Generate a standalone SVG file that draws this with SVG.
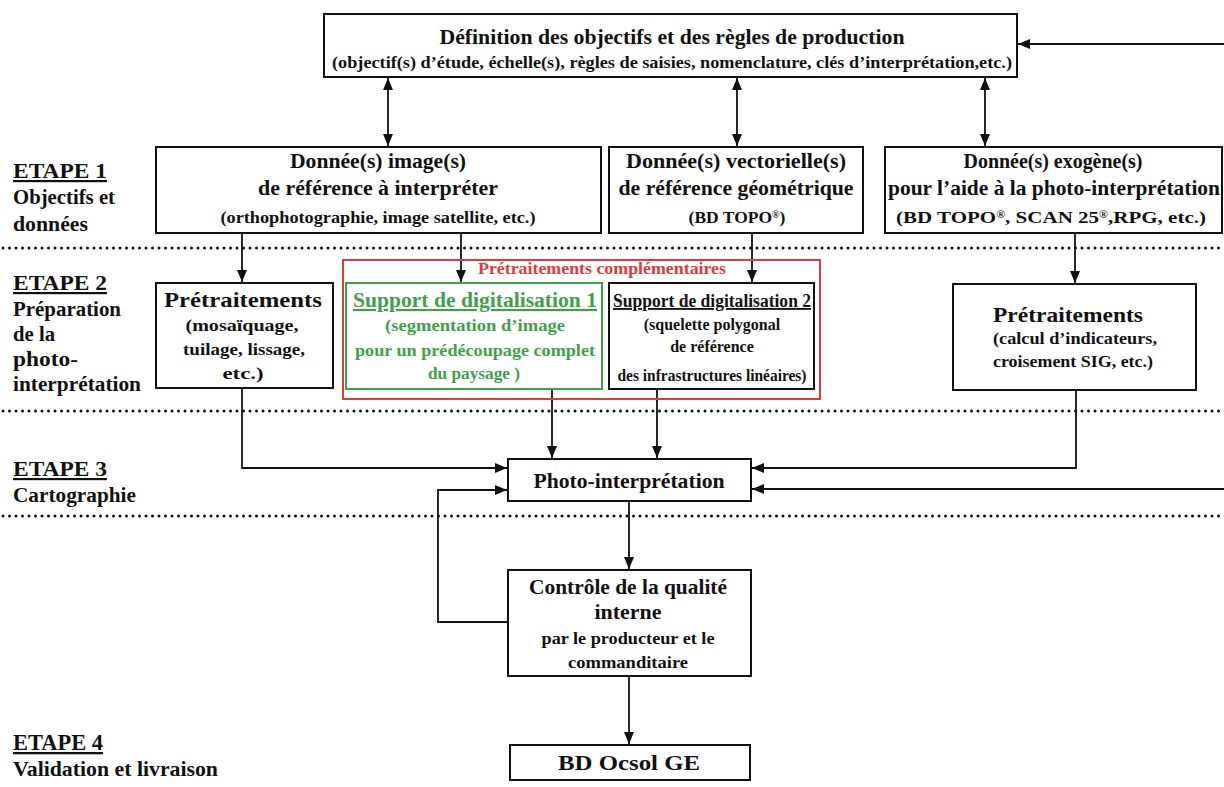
<svg xmlns="http://www.w3.org/2000/svg" width="1224" height="787" viewBox="0 0 1224 787">
<style>
text{font-family:"Liberation Serif","Times New Roman",serif;font-weight:bold;fill:#111;text-anchor:middle}
.t{font-size:21.5px}
.s{font-size:17.5px}
.m{font-size:17.5px}
.lab{text-anchor:start;font-size:20.5px}
.et{text-anchor:start;font-size:22px}
.box{fill:#fff;stroke:#111;stroke-width:2}
.ln{fill:none;stroke:#111;stroke-width:1.8}
.dot{stroke:#111;stroke-width:3;stroke-dasharray:0 6.5;stroke-linecap:round}
.g{fill:#3fa04a}
.r{fill:#e03a3a}
.sup{font-size:10px}
</style>
<defs>
<marker id="a" viewBox="0 0 12 10" refX="12" refY="5" markerWidth="12" markerHeight="10" markerUnits="userSpaceOnUse" orient="auto-start-reverse"><path d="M0,0 L12,5 L0,10 z" fill="#111"/></marker>
</defs>
<g id="separators">
<line class="dot" x1="3" y1="248" x2="1224" y2="248"/>
<line class="dot" x1="3" y1="411" x2="1224" y2="411"/>
<line class="dot" x1="3" y1="516" x2="1224" y2="516"/>
</g>
<g id="labels">
<text class="et" x="13" y="178" text-decoration="underline" textLength="94" lengthAdjust="spacingAndGlyphs">ETAPE 1</text>
<text class="lab" x="13" y="204" textLength="102" lengthAdjust="spacingAndGlyphs">Objectifs et</text>
<text class="lab" x="13" y="231" textLength="75" lengthAdjust="spacingAndGlyphs">données</text>
<text class="et" x="13" y="290" text-decoration="underline" textLength="94" lengthAdjust="spacingAndGlyphs">ETAPE 2</text>
<text class="lab" x="13" y="316" textLength="108" lengthAdjust="spacingAndGlyphs">Préparation</text>
<text class="lab" x="13" y="341" textLength="42" lengthAdjust="spacingAndGlyphs">de la</text>
<text class="lab" x="13" y="366" textLength="65" lengthAdjust="spacingAndGlyphs">photo-</text>
<text class="lab" x="13" y="391" textLength="128" lengthAdjust="spacingAndGlyphs">interprétation</text>
<text class="et" x="13" y="476" text-decoration="underline" textLength="94" lengthAdjust="spacingAndGlyphs">ETAPE 3</text>
<text class="lab" x="13" y="502" textLength="123" lengthAdjust="spacingAndGlyphs">Cartographie</text>
<text class="et" x="13" y="750" style="font-size:23px" text-decoration="underline" textLength="90" lengthAdjust="spacingAndGlyphs">ETAPE 4</text>
<text class="lab" x="13" y="776" style="font-size:21.5px" textLength="205" lengthAdjust="spacingAndGlyphs">Validation et livraison</text>
</g>
<g id="connectors">
<line class="ln" x1="1224" y1="44" x2="1018" y2="44" marker-end="url(#a)"/>
<line class="ln" x1="388" y1="78" x2="388" y2="146" marker-start="url(#a)" marker-end="url(#a)"/>
<line class="ln" x1="737" y1="78" x2="737" y2="146" marker-start="url(#a)" marker-end="url(#a)"/>
<line class="ln" x1="985" y1="78" x2="985" y2="146" marker-start="url(#a)" marker-end="url(#a)"/>
<line class="ln" x1="242" y1="234" x2="242" y2="282" marker-end="url(#a)"/>
<line class="ln" x1="461" y1="234" x2="461" y2="282" marker-end="url(#a)"/>
<line class="ln" x1="752" y1="234" x2="752" y2="282" marker-end="url(#a)"/>
<line class="ln" x1="1075" y1="234" x2="1075" y2="283" marker-end="url(#a)"/>
<polyline class="ln" points="242,389 242,468 507,468" marker-end="url(#a)"/>
<line class="ln" x1="552" y1="390" x2="552" y2="458" marker-end="url(#a)"/>
<line class="ln" x1="657" y1="390" x2="657" y2="458" marker-end="url(#a)"/>
<polyline class="ln" points="1076,391 1076,468 752,468" marker-end="url(#a)"/>
<line class="ln" x1="1224" y1="489" x2="752" y2="489" marker-end="url(#a)"/>
<polyline class="ln" points="507,622 438,622 438,490 507,490" marker-end="url(#a)"/>
<line class="ln" x1="629" y1="502" x2="629" y2="569" marker-end="url(#a)"/>
<line class="ln" x1="629" y1="677" x2="629" y2="744" marker-end="url(#a)"/>
</g>
<g id="n-def">
<rect class="box" x="324" y="14" width="693" height="63"/>
<text class="t" x="672" y="44" textLength="465" lengthAdjust="spacingAndGlyphs">Définition des objectifs et des règles de production</text>
<text class="s" x="672" y="68" textLength="680" lengthAdjust="spacingAndGlyphs">(objectif(s) d’étude, échelle(s), règles de saisies, nomenclature, clés d’interprétation,etc.)</text>
</g>
<g id="n-image">
<rect class="box" x="156" y="147" width="445" height="86"/>
<text class="t" x="378" y="168" textLength="176" lengthAdjust="spacingAndGlyphs">Donnée(s) image(s)</text>
<text class="t" x="378" y="195" textLength="240" lengthAdjust="spacingAndGlyphs">de référence à interpréter</text>
<text class="s" x="378" y="223" textLength="315" lengthAdjust="spacingAndGlyphs">(orthophotographie, image satellite, etc.)</text>
</g>
<g id="n-vect">
<rect class="box" x="609" y="147" width="254" height="86"/>
<text class="t" x="736" y="168" textLength="220" lengthAdjust="spacingAndGlyphs">Donnée(s) vectorielle(s)</text>
<text class="t" x="736" y="195" textLength="235" lengthAdjust="spacingAndGlyphs">de référence géométrique</text>
<text class="s" x="737" y="223">(BD TOPO<tspan class="sup" baseline-shift="super">®</tspan>)</text>
</g>
<g id="n-exo">
<rect class="box" x="885" y="147" width="337" height="86"/>
<text class="t" x="1053" y="168" textLength="179" lengthAdjust="spacingAndGlyphs">Donnée(s) exogène(s)</text>
<text class="t" x="1054" y="195" textLength="332" lengthAdjust="spacingAndGlyphs">pour l’aide à la photo-interprétation</text>
<text class="s" x="1051" y="223" textLength="310" lengthAdjust="spacingAndGlyphs">(BD TOPO<tspan class="sup" baseline-shift="super">®</tspan>, SCAN 25<tspan class="sup" baseline-shift="super">®</tspan>,RPG, etc.)</text>
</g>
<g id="n-pre1">
<rect class="box" x="156" y="283" width="177" height="105"/>
<text class="t" x="243" y="307" textLength="158" lengthAdjust="spacingAndGlyphs">Prétraitements</text>
<text class="m" x="242" y="331" textLength="113" lengthAdjust="spacingAndGlyphs">(mosaïquage,</text>
<text class="m" x="244" y="355" textLength="122" lengthAdjust="spacingAndGlyphs">tuilage, lissage,</text>
<text class="m" x="243" y="379" textLength="41" lengthAdjust="spacingAndGlyphs">etc.)</text>
</g>
<g id="n-compl">
<rect x="343" y="260" width="477" height="139" fill="none" stroke="#e03a3a" stroke-width="2"/>
<text class="r" x="602" y="274" style="font-size:17px" textLength="248" lengthAdjust="spacingAndGlyphs">Prétraitements complémentaires</text>
</g>
<g id="n-sup1">
<rect x="346" y="283" width="256" height="106" fill="#fff" stroke="#3fa04a" stroke-width="2"/>
<text class="t g" x="475" y="307" text-decoration="underline" textLength="244" lengthAdjust="spacingAndGlyphs">Support de digitalisation 1</text>
<text class="m g" x="475" y="331" textLength="180" lengthAdjust="spacingAndGlyphs">(segmentation d’image</text>
<text class="m g" x="475" y="356" textLength="240" lengthAdjust="spacingAndGlyphs">pour un prédécoupage complet</text>
<text class="m g" x="474" y="379" textLength="92" lengthAdjust="spacingAndGlyphs">du paysage )</text>
</g>
<g id="n-sup2">
<rect class="box" x="609" y="283" width="205" height="106"/>
<text class="t" x="712" y="307" style="font-size:18.5px" text-decoration="underline" textLength="198" lengthAdjust="spacingAndGlyphs">Support de digitalisation 2</text>
<text class="s" x="712" y="330" style="font-size:16px">(squelette polygonal</text>
<text class="s" x="712" y="352" style="font-size:16px">de référence</text>
<text class="s" x="712" y="381" style="font-size:16px" textLength="189" lengthAdjust="spacingAndGlyphs">des infrastructures linéaires)</text>
</g>
<g id="n-pre2">
<rect class="box" x="953" y="284" width="243" height="106"/>
<text class="t" x="1068" y="322" textLength="150" lengthAdjust="spacingAndGlyphs">Prétraitements</text>
<text class="m" x="1075" y="344" textLength="164" lengthAdjust="spacingAndGlyphs">(calcul d’indicateurs,</text>
<text class="m" x="1073" y="367" textLength="160" lengthAdjust="spacingAndGlyphs">croisement SIG, etc.)</text>
</g>
<g id="n-photo">
<rect class="box" x="508" y="459" width="243" height="42"/>
<text class="t" x="629" y="488" textLength="191" lengthAdjust="spacingAndGlyphs">Photo-interprétation</text>
</g>
<g id="n-ctrl">
<rect class="box" x="508" y="570" width="243" height="106"/>
<text class="t" x="628" y="594" textLength="198" lengthAdjust="spacingAndGlyphs">Contrôle de la qualité</text>
<text class="t" x="628" y="619" textLength="67" lengthAdjust="spacingAndGlyphs">interne</text>
<text class="m" x="628" y="644" textLength="173" lengthAdjust="spacingAndGlyphs">par le producteur  et le</text>
<text class="m" x="628" y="668" textLength="120" lengthAdjust="spacingAndGlyphs">commanditaire</text>
</g>
<g id="n-bd">
<rect class="box" x="510" y="745" width="240" height="35"/>
<text class="t" x="629" y="770" style="font-size:21px" textLength="142" lengthAdjust="spacingAndGlyphs">BD Ocsol GE</text>
</g>
</svg>
